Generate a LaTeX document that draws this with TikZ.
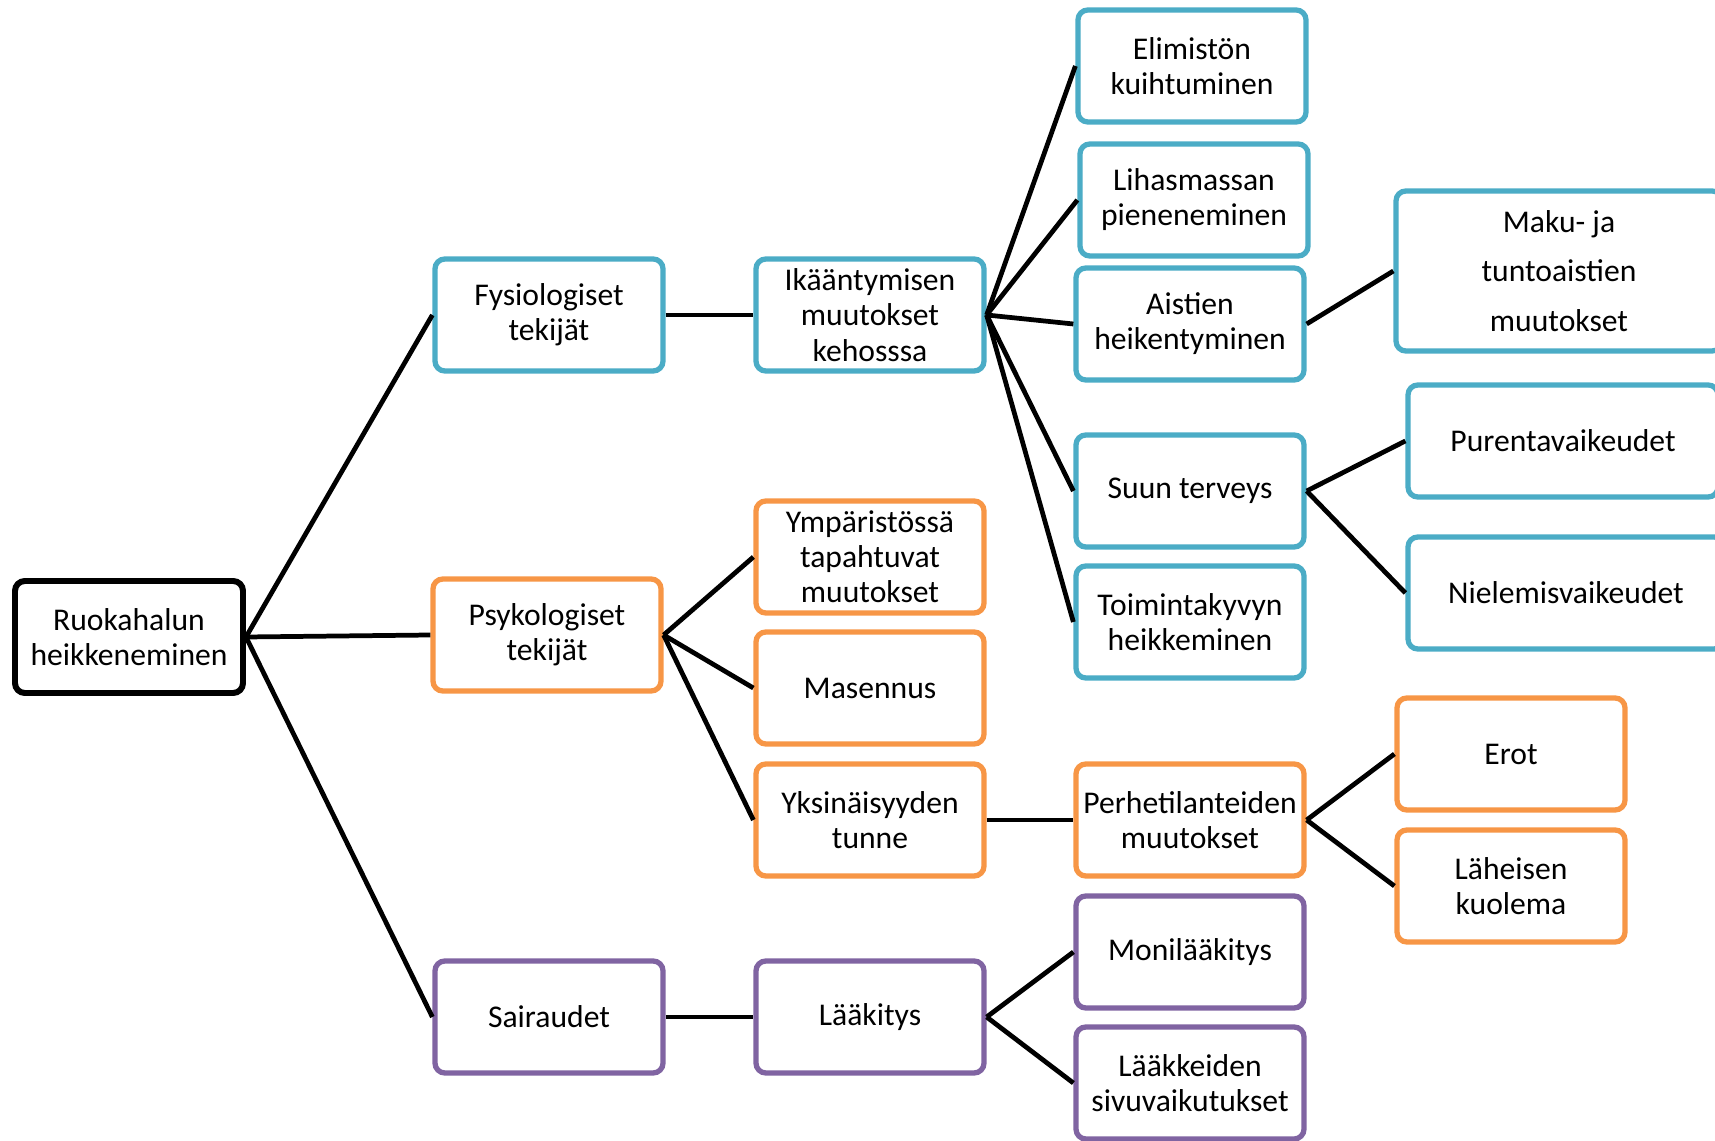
\documentclass[tikz,border=0pt]{standalone}
\usepackage{fontspec}
\setmainfont{Carlito}
\usepackage{tikz}
\usepackage{xcolor}
\usetikzlibrary{positioning}
\definecolor{fysio}{HTML}{4BACC6}
\definecolor{psyko}{HTML}{F79646}
\definecolor{sairaus}{HTML}{8064A2}

\begin{document}
\begin{tikzpicture}[every node/.style={font=\fontsize{9}{10}\selectfont}]
    \useasboundingbox (0,0) rectangle (17.15,11.40);
    \tikzstyle{box}=[draw,rounded corners=2.8pt,minimum width=22.8mm,minimum height=11.2mm,
                   fill=white,line width=1.5pt,align=center,inner sep=1pt];
    \tikzstyle{fy}=[box,draw=fysio];
    \tikzstyle{ps}=[box,draw=psyko];
    \tikzstyle{sa}=[box,draw=sairaus];
    \tikzstyle{ln}=[line width=1.35pt];

    \node[box,draw=black,line width=1.7pt] (rk) at (1.29,5.03) {Ruokahalun\\heikkeneminen};

    \node[fy] (fys) at (5.49,8.25) {Fysiologiset\\tekijät};
    \node[ps] (psy) at (5.47,5.05) {Psykologiset\\tekijät};
    \node[sa] (sai) at (5.49,1.23) {Sairaudet};

    \node[fy] (ika) at (8.70,8.25) {Ikääntymisen\\muutokset\\kehosssa};
    \node[ps] (ymp) at (8.70,5.83) {Ympäristössä\\tapahtuvat\\muutokset};
    \node[ps] (mas) at (8.70,4.52) {Masennus};
    \node[ps] (yks) at (8.70,3.20) {Yksinäisyyden\\tunne};
    \node[sa] (laa) at (8.70,1.23) {Lääkitys};

    \node[fy] (eli) at (11.92,10.74) {Elimistön\\kuihtuminen};
    \node[fy] (lih) at (11.94,9.40) {Lihasmassan\\pieneneminen};
    \node[fy] (ais) at (11.90,8.16) {Aistien\\heikentyminen};
    \node[fy] (suu) at (11.90,6.49) {Suun terveys};
    \node[fy] (toi) at (11.90,5.18) {Toimintakyvyn\\heikkeminen};
    \node[ps] (per) at (11.90,3.20) {Perhetilanteiden\\muutokset};
    \node[sa] (mon) at (11.90,1.88) {Monilääkitys};
    \node[sa] (sivu) at (11.90,0.57) {Lääkkeiden\\sivuvaikutukset};

    \node[fy,minimum width=32.6mm,minimum height=16mm,font=\fontsize{9}{14}\selectfont]
         (mak) at (15.59,8.69) {Maku- ja\\tuntoaistien\\muutokset};
    \node[fy,minimum width=31mm] (pur) at (15.63,6.99) {Purentavaikeudet};
    \node[fy,minimum width=31.6mm] (nie) at (15.66,5.47) {Nielemisvaikeudet};
    \node[ps] (ero) at (15.11,3.86) {Erot};
    \node[ps] (lah) at (15.11,2.54) {Läheisen\\kuolema};

    % juuresta
    \draw[ln] (rk.east) -- (fys.west);
    \draw[ln] (rk.east) -- (psy.west);
    \draw[ln] (rk.east) -- (sai.west);

    % fysiologiset
    \draw[ln] (fys.east) -- (ika.west);
    \foreach \t in {eli,lih,ais,suu,toi}
        \draw[ln] (ika.east) -- (\t.west);
    \draw[ln] (ais.east) -- (mak.west);
    \draw[ln] (suu.east) -- (pur.west);
    \draw[ln] (suu.east) -- (nie.west);

    % psykologiset
    \foreach \t in {ymp,mas,yks}
        \draw[ln] (psy.east) -- (\t.west);
    \draw[ln] (yks.east) -- (per.west);
    \draw[ln] (per.east) -- (ero.west);
    \draw[ln] (per.east) -- (lah.west);

    % sairaudet
    \draw[ln] (sai.east) -- (laa.west);
    \draw[ln] (laa.east) -- (mon.west);
    \draw[ln] (laa.east) -- (sivu.west);
  \end{tikzpicture}
\end{document}
